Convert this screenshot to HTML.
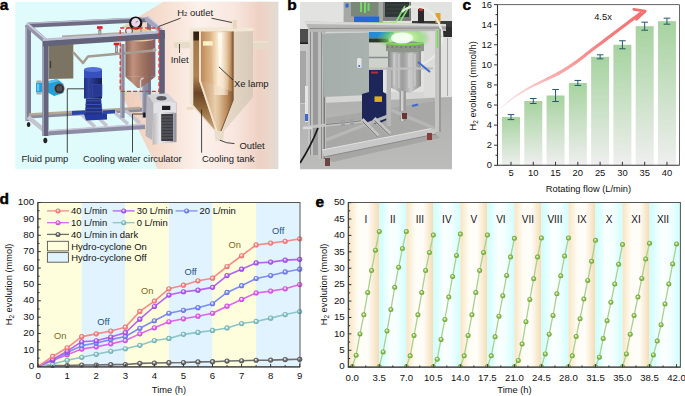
<!DOCTYPE html>
<html><head><meta charset="utf-8"><style>
html,body{margin:0;padding:0;background:#fff;}
svg{display:block;}
text{font-family:"Liberation Sans", sans-serif;}
</style></head><body>
<svg width="685" height="396" viewBox="0 0 685 396" font-family="Liberation Sans, sans-serif">
<rect width="685" height="396" fill="#fff"/>
<defs>
<radialGradient id="sp_red" cx="0.5" cy="0.5" r="0.5" fx="0.42" fy="0.36"><stop offset="0" stop-color="#fff"/><stop offset="0.22" stop-color="#fde2e2"/><stop offset="0.55" stop-color="#f58a8a"/><stop offset="1" stop-color="#e86a6a"/></radialGradient>
<radialGradient id="sp_purple" cx="0.5" cy="0.5" r="0.5" fx="0.42" fy="0.36"><stop offset="0" stop-color="#fff"/><stop offset="0.22" stop-color="#ecd6fd"/><stop offset="0.55" stop-color="#b462f2"/><stop offset="1" stop-color="#9440d8"/></radialGradient>
<radialGradient id="sp_blue" cx="0.5" cy="0.5" r="0.5" fx="0.42" fy="0.36"><stop offset="0" stop-color="#fff"/><stop offset="0.22" stop-color="#e0e4fd"/><stop offset="0.55" stop-color="#7f8cf2"/><stop offset="1" stop-color="#5f6ce0"/></radialGradient>
<radialGradient id="sp_magenta" cx="0.5" cy="0.5" r="0.5" fx="0.42" fy="0.36"><stop offset="0" stop-color="#fff"/><stop offset="0.22" stop-color="#f9dcfc"/><stop offset="0.55" stop-color="#e064ee"/><stop offset="1" stop-color="#c844d8"/></radialGradient>
<radialGradient id="sp_teal" cx="0.5" cy="0.5" r="0.5" fx="0.42" fy="0.36"><stop offset="0" stop-color="#fff"/><stop offset="0.22" stop-color="#e2f2f3"/><stop offset="0.55" stop-color="#8cc6c9"/><stop offset="1" stop-color="#6aa8ac"/></radialGradient>
<radialGradient id="sp_gray" cx="0.5" cy="0.5" r="0.5" fx="0.42" fy="0.36"><stop offset="0" stop-color="#fff"/><stop offset="0.22" stop-color="#d8d8d8"/><stop offset="0.55" stop-color="#6e6e6e"/><stop offset="1" stop-color="#505050"/></radialGradient>
<radialGradient id="sp_green" cx="0.5" cy="0.5" r="0.5" fx="0.42" fy="0.36"><stop offset="0" stop-color="#fff"/><stop offset="0.22" stop-color="#d8ecc0"/><stop offset="0.55" stop-color="#8cc152"/><stop offset="1" stop-color="#6a9e34"/></radialGradient>
</defs>
<defs>
<linearGradient id="a_rbg" gradientUnits="userSpaceOnUse" x1="120" y1="0" x2="278.3" y2="0">
 <stop offset="0" stop-color="#efcbb6"/><stop offset="0.25" stop-color="#f5dccd"/><stop offset="0.5" stop-color="#fcf1ec"/><stop offset="0.72" stop-color="#f8e7df"/><stop offset="0.88" stop-color="#eed1c3"/><stop offset="0.95" stop-color="#e9d8cc"/><stop offset="1" stop-color="#e0ddd2"/>
</linearGradient>
<linearGradient id="a_tank" x1="0" x2="1" y1="0" y2="0">
 <stop offset="0" stop-color="#8a6254"/><stop offset="0.25" stop-color="#c0927e"/><stop offset="0.5" stop-color="#a87a68"/><stop offset="0.8" stop-color="#8e6458"/><stop offset="1" stop-color="#8a6070"/>
</linearGradient>
<linearGradient id="a_pump" x1="0" x2="1" y1="0" y2="0">
 <stop offset="0" stop-color="#20307e"/><stop offset="0.25" stop-color="#3044a0"/><stop offset="0.6" stop-color="#22307c"/><stop offset="1" stop-color="#161e54"/>
</linearGradient>
<linearGradient id="a_circ" x1="0" x2="1" y1="0" y2="0">
 <stop offset="0" stop-color="#b8b8bc"/><stop offset="0.3" stop-color="#e8e8ea"/><stop offset="0.7" stop-color="#c8c8cc"/><stop offset="1" stop-color="#8e8a98"/>
</linearGradient>
<linearGradient id="a_shell" x1="0" x2="1" y1="0" y2="0">
 <stop offset="0" stop-color="#efe4d4"/><stop offset="0.5" stop-color="#e8dccb"/><stop offset="1" stop-color="#d8cab8"/>
</linearGradient>
<linearGradient id="a_inner" x1="0" x2="1" y1="0" y2="0">
 <stop offset="0" stop-color="#b8885a"/><stop offset="0.2" stop-color="#d2a676"/><stop offset="0.45" stop-color="#e6c49a"/><stop offset="0.55" stop-color="#f4dcb8"/><stop offset="0.7" stop-color="#dcb482"/><stop offset="0.92" stop-color="#c09060"/><stop offset="1" stop-color="#8a6038"/>
</linearGradient>
<linearGradient id="a_jacket" gradientUnits="userSpaceOnUse" x1="0" x2="0" y1="31.5" y2="131">
 <stop offset="0" stop-color="#2e1e10"/><stop offset="0.08" stop-color="#3a2616"/><stop offset="0.1" stop-color="#a47a4c"/><stop offset="0.45" stop-color="#b08454"/><stop offset="0.62" stop-color="#6a4426"/><stop offset="0.75" stop-color="#8a6238"/><stop offset="1" stop-color="#d0a878"/>
</linearGradient>
<linearGradient id="a_glow" x1="0" x2="1" y1="0" y2="0">
 <stop offset="0" stop-color="#fff4e0" stop-opacity="0"/><stop offset="0.45" stop-color="#fff6e8" stop-opacity="0.7"/><stop offset="0.6" stop-color="#fff6e8" stop-opacity="0.7"/><stop offset="1" stop-color="#fff4e0" stop-opacity="0"/>
</linearGradient>
<linearGradient id="a_cone" x1="0" x2="1" y1="0" y2="0">
 <stop offset="0" stop-color="#c09468"/><stop offset="0.45" stop-color="#ead0b0"/><stop offset="0.8" stop-color="#b88858"/><stop offset="1" stop-color="#7a5430"/>
</linearGradient>
</defs>
<rect x="15.2" y="1.8" width="263.1" height="167.2" fill="#e0fbfb"/>
<path d="M120,28 L163.5,1.8 L278.3,1.8 L278.3,169 L157.5,169 L120,91.4 Z" fill="url(#a_rbg)"/>
<rect x="120.2" y="28" width="38.8" height="63.4" fill="#e0fbfb"/>
<!-- back frame -->
<g stroke-linecap="butt">
<path d="M28,25.2 L150,19.5" stroke="#6c6c84" stroke-width="5"/>
<path d="M28,23.2 L150,17.5" stroke="#b8b8cc" stroke-width="1.4"/>
<path d="M28.3,25 V121" stroke="#7a7a92" stroke-width="5.4"/>
<path d="M26.3,25 V121" stroke="#a8a8bc" stroke-width="1.5"/>
<path d="M28,116.5 L145,109.5" stroke="#8c8ca0" stroke-width="4"/>
<path d="M28,117 L45,131" stroke="#c4c4d2" stroke-width="4.5"/>
<path d="M80,113 L95,127" stroke="#c4c4d0" stroke-width="3.5"/>
<path d="M92,112 L107,126" stroke="#c4c4d0" stroke-width="3.5"/>
<path d="M113,111 L128,124" stroke="#c4c4d0" stroke-width="3.5"/>
<path d="M125,110 L140,123" stroke="#c4c4d0" stroke-width="3.5"/>
<path d="M149,18 V108" stroke="#75758c" stroke-width="4"/>
</g>
<!-- cabinet -->
<path d="M48.6,45 L73.3,44 L73.3,78.5 L48.6,79 Z" fill="#7b7462"/>
<path d="M50.5,61 V68" stroke="#3e3a30" stroke-width="1.2"/>
<!-- pipes -->
<path d="M29,114.5 L140,108" stroke="#b4a898" stroke-width="2.4"/>
<path d="M62,36.4 L124,33" stroke="#b0a89e" stroke-width="2"/>
<!-- valves -->
<path d="M99.8,28.5 V35.5" stroke="#8a8a8a" stroke-width="3"/><path d="M99.8,31 V34" stroke="#c8c8c8" stroke-width="1"/><path d="M97,27.5 H102.6" stroke="#d42020" stroke-width="2.6"/>
<path d="M116.5,45 V53.5" stroke="#8a8a8a" stroke-width="3"/><path d="M116.5,47.5 V51.5" stroke="#c8c8c8" stroke-width="1"/><path d="M113.7,44 H119.3" stroke="#d42020" stroke-width="2.6"/>
<!-- flow meter -->
<rect x="36" y="82.6" width="6.5" height="10" rx="1.2" fill="#22a0d8"/><rect x="37" y="84" width="2.2" height="7" fill="#70c8ee"/><rect x="36.5" y="80.5" width="5" height="2.2" fill="#a8a8b0"/><rect x="36.5" y="92.5" width="5" height="2" fill="#a8a8b0"/>
<path d="M47,81.5 L57,79 L63.5,84 L63.5,93 L54,96 L47,92 Z" fill="#22a0d8"/><path d="M47,81.5 L57,79 L59,81 L49,83.5 Z" fill="#5cc0ec"/>
<circle cx="59.3" cy="88.6" r="5" fill="#2e2e30" stroke="#8a8a8e" stroke-width="0.6"/><circle cx="59.3" cy="88.6" r="3" fill="#505054"/>
<!-- front frame left -->
<path d="M45.5,41 V136" stroke="#64647c" stroke-width="6"/>
<path d="M43.2,41 V136" stroke="#9c9cb2" stroke-width="1.6"/>
<path d="M26.5,24.5 L45.5,41" stroke="#9494aa" stroke-width="5"/>
<path d="M26.5,22.8 L45.5,39" stroke="#d0d0e0" stroke-width="1.6"/>
<ellipse cx="28.6" cy="124.5" rx="1.8" ry="2.6" fill="#222"/>
<ellipse cx="45.3" cy="140.5" rx="2" ry="2.8" fill="#222"/>
<!-- pump -->
<path d="M72,111 L85,110.5 L85,114.5 L72,115 Z" fill="#2a44b0"/>
<path d="M103,110.5 L115,109.8 L115,113.2 L103,114 Z" fill="#2a44b0"/>
<path d="M84,114 L107,113.5 L107,119.5 L86,120.5 Z" fill="#2238a0"/>
<path d="M86,98.6 L101,98.6 L102.5,114 L85,114.5 Z" fill="#22307e"/>
<path d="M85.8,100.8 H101.3 M85.5,104.5 H101.8 M85.2,108.3 H102.2 M85,111.8 H102.4" stroke="#3a52b8" stroke-width="1"/>
<rect x="84" y="72" width="18" height="26.6" fill="url(#a_pump)"/>
<path d="M84,69.5 L102,69.5 L102,78 L84,78 Z" fill="#3650c0"/>
<ellipse cx="93" cy="69.5" rx="9" ry="2.4" fill="#5470d8"/>
<rect x="92.2" y="84.6" width="9.8" height="11.5" fill="#283890" stroke="#3a50b0" stroke-width="0.6"/>
<!-- tank -->
<path d="M145,76 V118" stroke="#8a8aa0" stroke-width="6"/><path d="M142.6,76 V118" stroke="#b4b4c6" stroke-width="1.4"/>

<rect x="125.4" y="38" width="30" height="38.8" fill="url(#a_tank)"/>
<path d="M125.4,76.8 L155.4,76.8 L140.5,88 L137.5,88 Z" fill="url(#a_tank)"/>
<path d="M140.5,80 V100 M140.5,79.5 L143.5,78" stroke="#d0d0d8" stroke-width="1.4" fill="none"/>
<ellipse cx="140.4" cy="38" rx="15" ry="3.5" fill="#e8c8a0"/>
<path d="M73,52 L83,63 L88,56.5 L154,50.5" fill="none" stroke="#a59c92" stroke-width="2.6" stroke-linejoin="round"/>
<circle cx="154.5" cy="50" r="2" fill="#b0a8a0"/>
<path d="M121,35.5 Q126,29 138,28.5 Q152,28.5 157,34 Z" fill="#e6c69a"/>
<path d="M132,29 V34 M141,29 V34" stroke="#8a8070" stroke-width="1"/>
<!-- gauge -->
<circle cx="129" cy="30.9" r="3.4" fill="#e4e4e4" stroke="#333" stroke-width="0.9"/>
<circle cx="135.7" cy="23" r="6.6" fill="#111"/>
<circle cx="135.7" cy="22.6" r="4.5" fill="#e6d8e8"/><path d="M135.7,22.6 L138,21" stroke="#555" stroke-width="0.7"/>
<path d="M133,27.8 H138.8" stroke="#d42a2a" stroke-width="1.6"/>
<!-- front frame top & right -->
<path d="M43,40.5 L165,32.5 L165,38.5 L43,46.5 Z" fill="#62627a"/>
<path d="M43,38.5 L165,30.5 L165,33 L43,41 Z" fill="#c0c0d4"/>
<path d="M146,18 L161,31" stroke="#a4a4bc" stroke-width="5"/>
<path d="M147.5,16 L163,29" stroke="#d2d2e2" stroke-width="1.4"/>
<path d="M162,30 V95" stroke="#5e5e78" stroke-width="5.6"/>
<path d="M122.5,44 V118" stroke="#8a8aa0" stroke-width="4.2"/>
<path d="M121,44 V118" stroke="#b4b4c6" stroke-width="1.2"/>
<path d="M48,133 L145,126.5" stroke="#8c8ca4" stroke-width="5"/>
<path d="M48,130.8 L145,124.3" stroke="#c8c8d8" stroke-width="1.4"/>
<!-- red dashed box -->
<rect x="120.2" y="28" width="38.8" height="63.4" fill="none" stroke="#e8322a" stroke-width="1.3" stroke-dasharray="4,2.2"/>
<!-- circulator -->
<path d="M146.7,94.7 L167.5,93.3 L176.5,102.4 L153.6,103 Z" fill="#d4d4d8"/>
<ellipse cx="161.5" cy="98.2" rx="5" ry="2.2" fill="#58585e"/>
<path d="M146.7,94.7 L153.6,103 L152.3,140.3 L145.5,136 Z" fill="#b6b6ba"/>
<path d="M153.6,103 L176.5,102.4 L176.5,142 L152.5,144.8 Z" fill="url(#a_circ)"/>
<path d="M153.6,103 Q165,101 176.5,102.4 L176.5,113 Q165,111 153.6,113.5 Z" fill="#e2e2e6"/>
<rect x="162" y="105.8" width="8.3" height="4.2" fill="#1e1e22"/>
<rect x="161.2" y="114" width="11.8" height="27" fill="#3c3c42"/>
<path d="M161.2,117 H173 M161.2,120 H173 M161.2,123 H173 M161.2,126 H173 M161.2,129 H173 M161.2,132 H173 M161.2,135 H173 M161.2,138 H173" stroke="#707078" stroke-width="0.7"/>
<!-- cutaway tank -->
<path d="M174,40.5 H190 V48.3 H174 Z" fill="#e8dcc8"/>
<path d="M174,40.5 H190 V42 H174 Z" fill="#f4ead8"/>
<path d="M252.5,41.2 H268.4 V49.2 H252.5 Z" fill="#e6dac8"/>
<path d="M252.5,41.2 H268.4 V42.6 H252.5 Z" fill="#f0e4d0"/>
<path d="M189.6,29.5 L253,29.5 L253,97 L224,131 L223.2,141 L215.5,141 L214.4,131 L192.6,107 L189.6,104 Z" fill="url(#a_shell)"/>
<path d="M189,28 Q221,26.5 253.4,28 L253.4,31 Q221,32.5 189,31 Z" fill="#f3e8d6"/>
<path d="M193.3,31.5 L199,31.5 L199,80.4 L215.8,129.5 L213.6,128.5 L193.3,105 Z" fill="url(#a_jacket)"/>
<path d="M200.8,31.5 L233,31.5 L233,100 L221,131 L217.6,131 L200.8,81 Z" fill="url(#a_inner)"/>
<path d="M200.8,81 L217.6,131 L221,131 L233,100 L233,92 Q215,84 200.8,81 Z" fill="url(#a_cone)" opacity="0.85"/>
<path d="M200,31.5 V80.6 L216.8,131.5" fill="none" stroke="#f2e4cc" stroke-width="1.8"/>
<path d="M233.2,31.5 V100 L221,131" fill="none" stroke="#7a5430" stroke-width="1"/>
<path d="M210,32 L232,32 L228,95 L214,95 Z" fill="url(#a_glow)"/>
<path d="M218,33 L222.4,33 L221.2,72 L219.4,72 Z" fill="#fffaf0" opacity="0.9"/>
<rect x="203" y="41.2" width="9.7" height="4.4" fill="#fff0c8"/>
<rect x="186.8" y="106.8" width="6.8" height="3.2" fill="#ecdcc4"/>
<rect x="230.8" y="19.3" width="6" height="9.5" fill="#e6d6be"/>
<rect x="230.8" y="19.3" width="2" height="9.5" fill="#f2e8d8"/>
<ellipse cx="233.8" cy="19.3" rx="3" ry="1" fill="#f4ead8"/>
<rect x="143.2" y="112.6" width="2.2" height="4.6" fill="#111"/>
<!-- labels -->
<g font-size="9.45" fill="#1a1a1a">
<text x="21.6" y="162.3">Fluid pump</text>
<text x="83" y="162.4">Cooling water circulator</text>
<text x="202" y="162.3">Cooling tank</text>
<text x="239.5" y="148.6">Outlet</text>
<text x="233.9" y="86.8">Xe lamp</text>
<text x="170.7" y="63.3">Inlet</text>
<text x="177.2" y="15.8">H<tspan font-size="6" dy="0.2">2</tspan><tspan dy="-0.2"> outlet</tspan></text>
</g>
<g stroke="#1a1a1a" stroke-width="0.8" fill="none">
<path d="M67.3,152.8 V88.8 H84"/>
<path d="M132.5,152.4 V114 H145"/>
<path d="M201.6,152.7 V109.5"/>
<path d="M219.8,140.2 Q226,143.5 234.5,143.6"/>
<path d="M218.9,66.9 L233,80"/>
<path d="M179.5,44 V53"/>
<path d="M180.5,18.2 L158.6,26.5"/>
<path d="M211.5,18.2 L231.9,22.5"/>
</g>
<text x="-0.3" y="10.1" font-size="15.5" font-weight="bold" fill="#000" stroke="#000" stroke-width="0.45">a</text>

<defs>
<clipPath id="b_clip"><rect x="300" y="1.9" width="152" height="167.3"/></clipPath>
<linearGradient id="b_floor" x1="0" x2="0" y1="0" y2="1">
 <stop offset="0" stop-color="#b0b0ae"/><stop offset="1" stop-color="#bcbcba"/>
</linearGradient>
<linearGradient id="b_tank" x1="0" x2="1" y1="0" y2="0">
 <stop offset="0" stop-color="#858585"/><stop offset="0.2" stop-color="#c0c0c0"/><stop offset="0.45" stop-color="#9c9c9c"/><stop offset="0.7" stop-color="#cacaca"/><stop offset="1" stop-color="#8a8a8a"/>
</linearGradient>
<radialGradient id="b_glow" cx="0.5" cy="0.5" r="0.5">
 <stop offset="0" stop-color="#f4fff0"/><stop offset="0.35" stop-color="#c0f0a0"/><stop offset="0.7" stop-color="#78d858" stop-opacity="0.55"/><stop offset="1" stop-color="#78d858" stop-opacity="0"/>
</radialGradient>
<linearGradient id="b_panel" x1="0" x2="1" y1="0" y2="0">
 <stop offset="0" stop-color="#a6aeac"/><stop offset="1" stop-color="#aab2b0"/>
</linearGradient>
<filter id="b_blur" x="-5%" y="-5%" width="110%" height="110%"><feGaussianBlur stdDeviation="0.5"/></filter>
</defs>
<g clip-path="url(#b_clip)">
<rect x="300" y="1.9" width="152" height="167.3" fill="#e2e3e1"/>
<g filter="url(#b_blur)">
<!-- wall lower tiles + floor -->
<rect x="300" y="92" width="152" height="14" fill="#d6d6d4"/>
<path d="M300,104 L452,97 L452,170 L300,170 Z" fill="url(#b_floor)"/>
<!-- darker floor under frame -->
<path d="M326,118 L436,101 L438,128 L326,152 Z" fill="#a8a8a6"/>
<path d="M326,156 L436,134 L440,138 L332,162 Z" fill="#a6a6a4"/>
<!-- lab bench left -->
<rect x="300" y="29" width="9" height="14" fill="#4e4e4e"/>
<rect x="300" y="42.5" width="9" height="1.5" fill="#1e1e1e"/>
<rect x="300" y="44" width="8" height="60" fill="#c8c8c6"/>
<rect x="300" y="51" width="6" height="52" fill="#a6a6a4"/>
<!-- right bench -->
<rect x="412" y="21" width="40" height="8" fill="#3a3a3a"/>
<rect x="424" y="29" width="28" height="68" fill="#dcdcda"/>
<rect x="438" y="27" width="14" height="10" fill="#2e2e2e"/><rect x="441" y="37" width="11" height="60" fill="#e2e2e0"/><path d="M447.5,38 V96" stroke="#9a9a9a" stroke-width="0.8"/>
<!-- fume hood / device at top -->
<rect x="343.6" y="1.9" width="39.2" height="21.5" fill="#a6a8a6"/>
<rect x="351" y="1.9" width="27.5" height="14.5" fill="#7a887a"/>
<path d="M361,2 V12 M365,2 V13 M368.5,3 V11" stroke="#72e860" stroke-width="2" opacity="0.85"/>
<rect x="345.5" y="3.5" width="3" height="4" fill="#2a6ad8"/>
<rect x="354" y="16.4" width="25.2" height="5.8" fill="#2468d8"/>
<rect x="382.8" y="1.9" width="28.2" height="19" fill="#7a7c7a"/>
<rect x="385" y="1.9" width="24" height="15" fill="#2e3434"/>
<path d="M386,5 H408 M386,9 H408 M386,13 H408" stroke="#3e4646" stroke-width="1"/>
<rect x="368.6" y="40" width="20" height="29" fill="#cdd2cd"/><path d="M369,57.5 H388" stroke="#8a8a8a" stroke-width="1.5"/>
<rect x="368.6" y="32" width="25.4" height="6.4" fill="#2a8ad0"/>
<rect x="368.6" y="38.4" width="20" height="4" fill="#2a382a"/>
<path d="M350,24 L396,23" stroke="#80e060" stroke-width="2.5" opacity="0.6"/>
<path d="M410,5 L400.5,21 M405,6 L396,22" stroke="#86f070" stroke-width="1.6" opacity="0.9"/>
<!-- bottles -->
<rect x="418" y="9" width="6" height="15" fill="#2a2a2e"/>
<rect x="419" y="8" width="4" height="3" fill="#c03030"/>
<rect x="435.5" y="13" width="5" height="10" fill="#e0a030"/>
<!-- left frame posts -->
<rect x="305" y="86" width="6" height="36" fill="#e4e4e4"/>
<rect x="305" y="114" width="6" height="7" fill="#3a6ad0"/>
<rect x="308" y="27" width="5" height="128" fill="#c2c2c2"/>
<rect x="310" y="27" width="1" height="128" fill="#8a8a8a"/>
<rect x="313" y="27" width="5" height="128" fill="#9a9a9a"/>
<rect x="318" y="29" width="8" height="130" fill="#c0c0c0"/>
<rect x="321" y="29" width="1" height="130" fill="#8a8a8a"/>
<rect x="323.5" y="29" width="1.5" height="130" fill="#7a7a7a"/>
<!-- green glow lid -->
<ellipse cx="404" cy="38" rx="27" ry="14" fill="url(#b_glow)"/>
<!-- cabinet panel -->
<path d="M322,33 L369,32 L369,95 L324,97 Z" fill="url(#b_panel)"/>
<path d="M322,33 L369,32" stroke="#d0d4d4" stroke-width="1"/>
<rect x="357" y="58" width="4.5" height="10" rx="1.5" fill="#e4e4e4"/>
<circle cx="359.2" cy="66" r="1" fill="#2a6ad0"/>
<!-- pump -->
<path d="M369,70 L383,69 L383,92 L386.5,94 L386.5,120 L378,124 L362,121 L362,94 L369,92 Z" fill="#1c2858"/>
<rect x="371" y="71.5" width="7" height="2" fill="#b03030"/>
<rect x="374.5" y="96.4" width="7.5" height="5.5" fill="#d8b020"/>
<!-- top frame -->
<path d="M305,21.5 L446,24 L446,31 L310,32 Z" fill="#b6b6b4"/>
<path d="M305,21.5 L446,24 L446,26 L306,24 Z" fill="#dadad8"/>
<path d="M310,28.5 L446,28" stroke="#8a8a8a" stroke-width="1"/>
<!-- tank -->
<path d="M388,50 L421,50 L421,86 L411,92.5 L400,92.5 L388,86 Z" fill="url(#b_tank)"/>
<path d="M394,54 V85 M399,54 V88 M409,54 V88 M415,54 V86" stroke="#dadada" stroke-width="1.2" opacity="0.7"/>
<path d="M386,43 Q405,39 424,43 L424,51 Q405,54 386,51 Z" fill="#8e968c"/>
<path d="M387,47 H423" stroke="#5a5a5a" stroke-width="1" stroke-dasharray="1.5,3"/>
<path d="M386,43 Q405,46 424,43" stroke="#78e048" stroke-width="1.8" fill="none" opacity="0.9"/>
<ellipse cx="402" cy="38" rx="11" ry="5.5" fill="#f4fff0" opacity="0.95"/>
<path d="M369,68.8 L433,68.3" stroke="#c0c0c0" stroke-width="2.2"/>
<rect x="399.5" y="91" width="6.4" height="30" fill="#9a9a9a"/>
<rect x="401" y="91" width="2.4" height="30" fill="#d0d0d0"/>
<rect x="386.6" y="67" width="4.4" height="59" fill="#b8b8b8"/>
<!-- tube -->
<path d="M402,12 Q408,5 420,7 Q436,10 442,32 Q445,55 420,65" stroke="#e8ece4" stroke-width="2.2" fill="none"/>

<!-- right post -->
<rect x="435" y="29" width="6" height="103" fill="#c4c4c4"/>
<rect x="439" y="29" width="2" height="103" fill="#9a9a9a"/>
<path d="M437.5,30 V48" stroke="#70e048" stroke-width="1.5"/>
<!-- pipes middle -->
<path d="M304,127.5 L364,121" stroke="#c4c4c4" stroke-width="3.2"/>
<path d="M326,124.5 L364,120.5" stroke="#7a7a7a" stroke-width="1.2"/>
<rect x="341" y="120" width="4" height="6" fill="#a0a0a0"/><rect x="350" y="119" width="4" height="6" fill="#a0a0a0"/>
<path d="M303,128 H312" stroke="#d8d8d8" stroke-width="2.4"/>
<path d="M391,113 L432,110" stroke="#a8a8a8" stroke-width="2.5"/>
<path d="M418,62 L430,72" stroke="#3a6ad0" stroke-width="2"/>
<path d="M412,106 L418,104.5" stroke="#3a6ad0" stroke-width="2"/>
<!-- bottom frame -->
<path d="M322,150 L434,128 L436,134 L324,157 Z" fill="#c8c8c8"/>
<path d="M322,150 L434,128" stroke="#e2e2e2" stroke-width="1"/>
<path d="M324,157 L436,134" stroke="#8a8a8a" stroke-width="1"/>
<path d="M391,110 L434,128" stroke="#b6b6b6" stroke-width="3.5"/>
<path d="M326,140 L388,116" stroke="#b8b8b8" stroke-width="3"/>
<path d="M362,119.5 L378,136 M374,118.5 L390,134" stroke="#c4c4c4" stroke-width="4"/><path d="M362.5,121.5 L377.5,137 M374.5,120.5 L389.5,135" stroke="#6a6a6a" stroke-width="1"/>
<!-- wheels -->
<rect x="325" y="158" width="5" height="8" fill="#6a4444"/>
<rect x="427" y="133" width="5" height="7" fill="#8a3a3a"/>
<rect x="402" y="113" width="5" height="6" fill="#6a3434"/>
<!-- cable -->
<path d="M318,128 Q311,146 300,163" stroke="#1a1a1a" stroke-width="1.8" fill="none"/>
</g>
</g>
<text x="287.2" y="10.1" font-size="15.5" font-weight="bold" fill="#000" stroke="#000" stroke-width="0.45">b</text>

<defs><linearGradient id="barg" x1="0" y1="0" x2="0" y2="1"><stop offset="0" stop-color="#a6d39f"/><stop offset="1" stop-color="#efefef"/></linearGradient><linearGradient id="arrg" gradientUnits="userSpaceOnUse" x1="500" y1="109" x2="645" y2="11"><stop offset="0" stop-color="#fbc4c4" stop-opacity="0.5"/><stop offset="0.35" stop-color="#f7a4a4" stop-opacity="0.9"/><stop offset="0.7" stop-color="#f47f7f"/><stop offset="1" stop-color="#f47070"/></linearGradient></defs>
<rect x="502.00" y="117.09" width="18.0" height="48.21" fill="url(#barg)"/>
<rect x="524.28" y="101.02" width="18.0" height="64.28" fill="url(#barg)"/>
<rect x="546.56" y="95.50" width="18.0" height="69.80" fill="url(#barg)"/>
<rect x="568.84" y="82.94" width="18.0" height="82.36" fill="url(#barg)"/>
<rect x="591.12" y="56.83" width="18.0" height="108.47" fill="url(#barg)"/>
<rect x="613.40" y="44.78" width="18.0" height="120.53" fill="url(#barg)"/>
<rect x="635.68" y="26.19" width="18.0" height="139.11" fill="url(#barg)"/>
<rect x="657.96" y="21.17" width="18.0" height="144.13" fill="url(#barg)"/>
<path d="M500.80,108.81 L501.62,108.12 L502.66,107.20 L503.89,106.10 L505.26,104.87 L506.77,103.56 L508.37,102.22 L510.03,100.90 L511.73,99.64 L513.53,98.40 L515.47,97.11 L517.52,95.79 L519.65,94.45 L521.83,93.13 L524.01,91.84 L526.17,90.60 L528.27,89.43 L530.33,88.35 L532.38,87.32 L534.44,86.35 L536.50,85.40 L538.57,84.47 L540.64,83.54 L542.72,82.59 L544.80,81.62 L546.87,80.65 L548.94,79.70 L551.01,78.75 L553.09,77.80 L555.17,76.81 L557.24,75.76 L559.32,74.65 L561.40,73.49 L563.48,72.27 L565.58,71.00 L567.68,69.69 L569.77,68.34 L571.85,66.97 L573.91,65.59 L575.94,64.20 L577.93,62.80 L579.82,61.43 L581.58,60.10 L583.28,58.78 L584.96,57.44 L586.68,56.05 L588.52,54.59 L590.53,53.00 L592.77,51.27 L595.27,49.37 L597.96,47.33 L600.82,45.18 L603.80,42.94 L606.87,40.64 L609.99,38.29 L613.14,35.93 L616.26,33.58 L619.59,31.08 L623.24,28.33 L627.04,25.47 L630.83,22.62 L634.44,19.91 L637.69,17.47 L640.42,15.41 L642.46,13.88 L640.54,11.32 L638.50,12.85 L635.77,14.91 L632.51,17.35 L628.91,20.06 L625.12,22.91 L621.31,25.78 L617.66,28.52 L614.34,31.02 L611.21,33.37 L608.07,35.73 L604.95,38.08 L601.88,40.38 L598.89,42.63 L596.04,44.78 L593.34,46.82 L590.83,48.73 L588.56,50.48 L586.53,52.08 L584.68,53.56 L582.96,54.94 L581.29,56.27 L579.63,57.56 L577.92,58.86 L576.07,60.20 L574.11,61.57 L572.11,62.94 L570.08,64.31 L568.03,65.66 L565.97,66.98 L563.90,68.27 L561.84,69.52 L559.80,70.71 L557.78,71.84 L555.76,72.92 L553.73,73.96 L551.71,75.00 L549.69,76.04 L547.66,77.07 L545.63,78.12 L543.60,79.18 L541.58,80.24 L539.56,81.27 L537.53,82.29 L535.50,83.31 L533.46,84.36 L531.42,85.44 L529.37,86.58 L527.33,87.77 L525.25,89.04 L523.12,90.38 L520.97,91.77 L518.83,93.19 L516.74,94.61 L514.73,96.03 L512.83,97.42 L511.07,98.76 L509.40,100.11 L507.78,101.53 L506.23,102.96 L504.79,104.36 L503.47,105.66 L502.32,106.84 L501.35,107.83 L500.60,108.59 Z" fill="url(#arrg)"/>
<path d="M633.8,9.3 L645.2,11.2 L636.5,19.3" fill="none" stroke="#f47070" stroke-width="2.8" stroke-linejoin="round" stroke-linecap="round"/>
<path d="M511.00,114.58V119.60M507.70,114.58H514.30M507.70,119.60H514.30" stroke="#24596b" stroke-width="1" fill="none"/>
<path d="M533.28,98.51V103.53M529.98,98.51H536.58M529.98,103.53H536.58" stroke="#24596b" stroke-width="1" fill="none"/>
<path d="M555.56,89.47V101.52M552.26,89.47H558.86M552.26,101.52H558.86" stroke="#24596b" stroke-width="1" fill="none"/>
<path d="M577.84,80.43V85.45M574.54,80.43H581.14M574.54,85.45H581.14" stroke="#24596b" stroke-width="1" fill="none"/>
<path d="M600.12,54.82V58.84M596.82,54.82H603.42M596.82,58.84H603.42" stroke="#24596b" stroke-width="1" fill="none"/>
<path d="M622.40,40.76V48.79M619.10,40.76H625.70M619.10,48.79H625.70" stroke="#24596b" stroke-width="1" fill="none"/>
<path d="M644.68,22.18V30.21M641.38,22.18H647.98M641.38,30.21H647.98" stroke="#24596b" stroke-width="1" fill="none"/>
<path d="M666.96,18.16V24.19M663.66,18.16H670.26M663.66,24.19H670.26" stroke="#24596b" stroke-width="1" fill="none"/>
<path d="M497.5,4.6H679.5V165.3" fill="none" stroke="#666" stroke-width="1"/>
<path d="M497.5,4.6V165.3H679.5" fill="none" stroke="#333" stroke-width="1.1"/>
<path d="M494.0,165.30H497.5" stroke="#333" stroke-width="1"/>
<text x="492.0" y="168.40" font-size="9.4" text-anchor="end" fill="#111">0</text>
<path d="M495.5,155.26H497.5" stroke="#333" stroke-width="1"/>
<path d="M494.0,145.21H497.5" stroke="#333" stroke-width="1"/>
<text x="492.0" y="148.31" font-size="9.4" text-anchor="end" fill="#111">2</text>
<path d="M495.5,135.17H497.5" stroke="#333" stroke-width="1"/>
<path d="M494.0,125.12H497.5" stroke="#333" stroke-width="1"/>
<text x="492.0" y="128.22" font-size="9.4" text-anchor="end" fill="#111">4</text>
<path d="M495.5,115.08H497.5" stroke="#333" stroke-width="1"/>
<path d="M494.0,105.04H497.5" stroke="#333" stroke-width="1"/>
<text x="492.0" y="108.14" font-size="9.4" text-anchor="end" fill="#111">6</text>
<path d="M495.5,94.99H497.5" stroke="#333" stroke-width="1"/>
<path d="M494.0,84.95H497.5" stroke="#333" stroke-width="1"/>
<text x="492.0" y="88.05" font-size="9.4" text-anchor="end" fill="#111">8</text>
<path d="M495.5,74.91H497.5" stroke="#333" stroke-width="1"/>
<path d="M494.0,64.86H497.5" stroke="#333" stroke-width="1"/>
<text x="492.0" y="67.96" font-size="9.4" text-anchor="end" fill="#111">10</text>
<path d="M495.5,54.82H497.5" stroke="#333" stroke-width="1"/>
<path d="M494.0,44.78H497.5" stroke="#333" stroke-width="1"/>
<text x="492.0" y="47.88" font-size="9.4" text-anchor="end" fill="#111">12</text>
<path d="M495.5,34.73H497.5" stroke="#333" stroke-width="1"/>
<path d="M494.0,24.69H497.5" stroke="#333" stroke-width="1"/>
<text x="492.0" y="27.79" font-size="9.4" text-anchor="end" fill="#111">14</text>
<path d="M495.5,14.64H497.5" stroke="#333" stroke-width="1"/>
<path d="M494.0,4.60H497.5" stroke="#333" stroke-width="1"/>
<text x="492.0" y="7.70" font-size="9.4" text-anchor="end" fill="#111">16</text>
<path d="M511.00,165.3V161.8" stroke="#333" stroke-width="1"/>
<text x="511.00" y="176.3" font-size="9.4" text-anchor="middle" fill="#111">5</text>
<path d="M533.28,165.3V161.8" stroke="#333" stroke-width="1"/>
<text x="533.28" y="176.3" font-size="9.4" text-anchor="middle" fill="#111">10</text>
<path d="M555.56,165.3V161.8" stroke="#333" stroke-width="1"/>
<text x="555.56" y="176.3" font-size="9.4" text-anchor="middle" fill="#111">15</text>
<path d="M577.84,165.3V161.8" stroke="#333" stroke-width="1"/>
<text x="577.84" y="176.3" font-size="9.4" text-anchor="middle" fill="#111">20</text>
<path d="M600.12,165.3V161.8" stroke="#333" stroke-width="1"/>
<text x="600.12" y="176.3" font-size="9.4" text-anchor="middle" fill="#111">25</text>
<path d="M622.40,165.3V161.8" stroke="#333" stroke-width="1"/>
<text x="622.40" y="176.3" font-size="9.4" text-anchor="middle" fill="#111">30</text>
<path d="M644.68,165.3V161.8" stroke="#333" stroke-width="1"/>
<text x="644.68" y="176.3" font-size="9.4" text-anchor="middle" fill="#111">35</text>
<path d="M666.96,165.3V161.8" stroke="#333" stroke-width="1"/>
<text x="666.96" y="176.3" font-size="9.4" text-anchor="middle" fill="#111">40</text>
<text x="588.5" y="192" font-size="9.3" text-anchor="middle" fill="#111">Rotating flow (L/min)</text>
<text transform="translate(475.6,85.8) rotate(-90)" font-size="9.3" text-anchor="middle" fill="#111">H<tspan font-size="6.5" dy="2">2</tspan><tspan dy="-2"> evolution (mmol/h)</tspan></text>
<text x="603" y="20" font-size="9.3" text-anchor="middle" fill="#111">4.5x</text>
<text x="462.4" y="10.4" font-size="15.5" font-weight="bold" fill="#000" stroke="#000" stroke-width="0.45">c</text>
<rect x="37.80" y="202.5" width="43.90" height="164.39999999999998" fill="#fefddc"/>
<rect x="81.70" y="202.5" width="43.60" height="164.39999999999998" fill="#e0f3fe"/>
<rect x="125.30" y="202.5" width="43.60" height="164.39999999999998" fill="#fefddc"/>
<rect x="168.90" y="202.5" width="43.60" height="164.39999999999998" fill="#e0f3fe"/>
<rect x="212.50" y="202.5" width="43.60" height="164.39999999999998" fill="#fefddc"/>
<rect x="256.10" y="202.5" width="43.90" height="164.39999999999998" fill="#e0f3fe"/>
<text x="60.2" y="338.6" font-size="9.3" text-anchor="middle" fill="#7d6a18">On</text>
<text x="103.4" y="324.6" font-size="9.3" text-anchor="middle" fill="#1e5282">Off</text>
<text x="147.2" y="294.3" font-size="9.3" text-anchor="middle" fill="#7d6a18">On</text>
<text x="190.6" y="274.6" font-size="9.3" text-anchor="middle" fill="#1e5282">Off</text>
<text x="234.7" y="247.9" font-size="9.3" text-anchor="middle" fill="#7d6a18">On</text>
<text x="278.2" y="234.2" font-size="9.3" text-anchor="middle" fill="#1e5282">Off</text>
<polyline points="38.10,366.30 52.63,365.48 67.17,365.48 81.70,364.99 96.23,364.99 110.77,364.66 125.30,364.50 139.83,363.35 154.37,363.02 168.90,362.70 183.43,362.53 197.97,361.88 212.50,361.71 227.03,361.06 241.57,360.73 256.10,360.24 270.63,360.08 285.17,359.58 299.70,359.26" fill="none" stroke="#6e6e6e" stroke-width="1.6" stroke-linejoin="round"/>
<circle cx="52.63" cy="365.48" r="2.6" fill="url(#sp_gray)"/>
<circle cx="67.17" cy="365.48" r="2.6" fill="url(#sp_gray)"/>
<circle cx="81.70" cy="364.99" r="2.6" fill="url(#sp_gray)"/>
<circle cx="96.23" cy="364.99" r="2.6" fill="url(#sp_gray)"/>
<circle cx="110.77" cy="364.66" r="2.6" fill="url(#sp_gray)"/>
<circle cx="125.30" cy="364.50" r="2.6" fill="url(#sp_gray)"/>
<circle cx="139.83" cy="363.35" r="2.6" fill="url(#sp_gray)"/>
<circle cx="154.37" cy="363.02" r="2.6" fill="url(#sp_gray)"/>
<circle cx="168.90" cy="362.70" r="2.6" fill="url(#sp_gray)"/>
<circle cx="183.43" cy="362.53" r="2.6" fill="url(#sp_gray)"/>
<circle cx="197.97" cy="361.88" r="2.6" fill="url(#sp_gray)"/>
<circle cx="212.50" cy="361.71" r="2.6" fill="url(#sp_gray)"/>
<circle cx="227.03" cy="361.06" r="2.6" fill="url(#sp_gray)"/>
<circle cx="241.57" cy="360.73" r="2.6" fill="url(#sp_gray)"/>
<circle cx="256.10" cy="360.24" r="2.6" fill="url(#sp_gray)"/>
<circle cx="270.63" cy="360.08" r="2.6" fill="url(#sp_gray)"/>
<circle cx="285.17" cy="359.58" r="2.6" fill="url(#sp_gray)"/>
<circle cx="299.70" cy="359.26" r="2.6" fill="url(#sp_gray)"/>
<polyline points="38.10,366.30 52.63,364.01 67.17,360.24 81.70,357.29 96.23,354.34 110.77,351.23 125.30,348.77 139.83,345.33 154.37,340.58 168.90,338.45 183.43,334.36 197.97,332.39 212.50,330.43 227.03,327.97 241.57,323.55 256.10,321.42 270.63,318.14 285.17,314.54 299.70,311.59" fill="none" stroke="#8cc6c9" stroke-width="1.6" stroke-linejoin="round"/>
<circle cx="52.63" cy="364.01" r="2.6" fill="url(#sp_teal)"/>
<circle cx="67.17" cy="360.24" r="2.6" fill="url(#sp_teal)"/>
<circle cx="81.70" cy="357.29" r="2.6" fill="url(#sp_teal)"/>
<circle cx="96.23" cy="354.34" r="2.6" fill="url(#sp_teal)"/>
<circle cx="110.77" cy="351.23" r="2.6" fill="url(#sp_teal)"/>
<circle cx="125.30" cy="348.77" r="2.6" fill="url(#sp_teal)"/>
<circle cx="139.83" cy="345.33" r="2.6" fill="url(#sp_teal)"/>
<circle cx="154.37" cy="340.58" r="2.6" fill="url(#sp_teal)"/>
<circle cx="168.90" cy="338.45" r="2.6" fill="url(#sp_teal)"/>
<circle cx="183.43" cy="334.36" r="2.6" fill="url(#sp_teal)"/>
<circle cx="197.97" cy="332.39" r="2.6" fill="url(#sp_teal)"/>
<circle cx="212.50" cy="330.43" r="2.6" fill="url(#sp_teal)"/>
<circle cx="227.03" cy="327.97" r="2.6" fill="url(#sp_teal)"/>
<circle cx="241.57" cy="323.55" r="2.6" fill="url(#sp_teal)"/>
<circle cx="256.10" cy="321.42" r="2.6" fill="url(#sp_teal)"/>
<circle cx="270.63" cy="318.14" r="2.6" fill="url(#sp_teal)"/>
<circle cx="285.17" cy="314.54" r="2.6" fill="url(#sp_teal)"/>
<circle cx="299.70" cy="311.59" r="2.6" fill="url(#sp_teal)"/>
<polyline points="38.10,366.30 52.63,360.57 67.17,354.67 81.70,349.10 96.23,346.81 110.77,343.86 125.30,340.58 139.83,333.87 154.37,327.81 168.90,321.75 183.43,318.80 197.97,316.18 212.50,313.23 227.03,306.19 241.57,299.47 256.10,292.92 270.63,291.12 285.17,288.82 299.70,284.56" fill="none" stroke="#e064ee" stroke-width="1.6" stroke-linejoin="round"/>
<circle cx="52.63" cy="360.57" r="2.6" fill="url(#sp_magenta)"/>
<circle cx="67.17" cy="354.67" r="2.6" fill="url(#sp_magenta)"/>
<circle cx="81.70" cy="349.10" r="2.6" fill="url(#sp_magenta)"/>
<circle cx="96.23" cy="346.81" r="2.6" fill="url(#sp_magenta)"/>
<circle cx="110.77" cy="343.86" r="2.6" fill="url(#sp_magenta)"/>
<circle cx="125.30" cy="340.58" r="2.6" fill="url(#sp_magenta)"/>
<circle cx="139.83" cy="333.87" r="2.6" fill="url(#sp_magenta)"/>
<circle cx="154.37" cy="327.81" r="2.6" fill="url(#sp_magenta)"/>
<circle cx="168.90" cy="321.75" r="2.6" fill="url(#sp_magenta)"/>
<circle cx="183.43" cy="318.80" r="2.6" fill="url(#sp_magenta)"/>
<circle cx="197.97" cy="316.18" r="2.6" fill="url(#sp_magenta)"/>
<circle cx="212.50" cy="313.23" r="2.6" fill="url(#sp_magenta)"/>
<circle cx="227.03" cy="306.19" r="2.6" fill="url(#sp_magenta)"/>
<circle cx="241.57" cy="299.47" r="2.6" fill="url(#sp_magenta)"/>
<circle cx="256.10" cy="292.92" r="2.6" fill="url(#sp_magenta)"/>
<circle cx="270.63" cy="291.12" r="2.6" fill="url(#sp_magenta)"/>
<circle cx="285.17" cy="288.82" r="2.6" fill="url(#sp_magenta)"/>
<circle cx="299.70" cy="284.56" r="2.6" fill="url(#sp_magenta)"/>
<polyline points="38.10,366.30 52.63,360.24 67.17,352.54 81.70,345.66 96.23,343.04 110.77,339.60 125.30,336.49 139.83,328.30 154.37,320.76 168.90,313.23 183.43,310.28 197.97,307.66 212.50,303.73 227.03,292.43 241.57,285.71 256.10,278.50 270.63,275.55 285.17,271.95 299.70,269.17" fill="none" stroke="#7f8cf2" stroke-width="1.6" stroke-linejoin="round"/>
<circle cx="52.63" cy="360.24" r="2.6" fill="url(#sp_blue)"/>
<circle cx="67.17" cy="352.54" r="2.6" fill="url(#sp_blue)"/>
<circle cx="81.70" cy="345.66" r="2.6" fill="url(#sp_blue)"/>
<circle cx="96.23" cy="343.04" r="2.6" fill="url(#sp_blue)"/>
<circle cx="110.77" cy="339.60" r="2.6" fill="url(#sp_blue)"/>
<circle cx="125.30" cy="336.49" r="2.6" fill="url(#sp_blue)"/>
<circle cx="139.83" cy="328.30" r="2.6" fill="url(#sp_blue)"/>
<circle cx="154.37" cy="320.76" r="2.6" fill="url(#sp_blue)"/>
<circle cx="168.90" cy="313.23" r="2.6" fill="url(#sp_blue)"/>
<circle cx="183.43" cy="310.28" r="2.6" fill="url(#sp_blue)"/>
<circle cx="197.97" cy="307.66" r="2.6" fill="url(#sp_blue)"/>
<circle cx="212.50" cy="303.73" r="2.6" fill="url(#sp_blue)"/>
<circle cx="227.03" cy="292.43" r="2.6" fill="url(#sp_blue)"/>
<circle cx="241.57" cy="285.71" r="2.6" fill="url(#sp_blue)"/>
<circle cx="256.10" cy="278.50" r="2.6" fill="url(#sp_blue)"/>
<circle cx="270.63" cy="275.55" r="2.6" fill="url(#sp_blue)"/>
<circle cx="285.17" cy="271.95" r="2.6" fill="url(#sp_blue)"/>
<circle cx="299.70" cy="269.17" r="2.6" fill="url(#sp_blue)"/>
<polyline points="38.10,366.30 52.63,359.42 67.17,351.07 81.70,341.73 96.23,340.75 110.77,336.98 125.30,332.72 139.83,319.13 154.37,306.51 168.90,295.05 183.43,291.77 197.97,290.13 212.50,287.35 227.03,275.55 241.57,269.17 256.10,262.94 270.63,262.12 285.17,260.16 299.70,259.34" fill="none" stroke="#b462f2" stroke-width="1.6" stroke-linejoin="round"/>
<circle cx="52.63" cy="359.42" r="2.6" fill="url(#sp_purple)"/>
<circle cx="67.17" cy="351.07" r="2.6" fill="url(#sp_purple)"/>
<circle cx="81.70" cy="341.73" r="2.6" fill="url(#sp_purple)"/>
<circle cx="96.23" cy="340.75" r="2.6" fill="url(#sp_purple)"/>
<circle cx="110.77" cy="336.98" r="2.6" fill="url(#sp_purple)"/>
<circle cx="125.30" cy="332.72" r="2.6" fill="url(#sp_purple)"/>
<circle cx="139.83" cy="319.13" r="2.6" fill="url(#sp_purple)"/>
<circle cx="154.37" cy="306.51" r="2.6" fill="url(#sp_purple)"/>
<circle cx="168.90" cy="295.05" r="2.6" fill="url(#sp_purple)"/>
<circle cx="183.43" cy="291.77" r="2.6" fill="url(#sp_purple)"/>
<circle cx="197.97" cy="290.13" r="2.6" fill="url(#sp_purple)"/>
<circle cx="212.50" cy="287.35" r="2.6" fill="url(#sp_purple)"/>
<circle cx="227.03" cy="275.55" r="2.6" fill="url(#sp_purple)"/>
<circle cx="241.57" cy="269.17" r="2.6" fill="url(#sp_purple)"/>
<circle cx="256.10" cy="262.94" r="2.6" fill="url(#sp_purple)"/>
<circle cx="270.63" cy="262.12" r="2.6" fill="url(#sp_purple)"/>
<circle cx="285.17" cy="260.16" r="2.6" fill="url(#sp_purple)"/>
<circle cx="299.70" cy="259.34" r="2.6" fill="url(#sp_purple)"/>
<polyline points="38.10,366.30 52.63,356.47 67.17,347.79 81.70,336.65 96.23,333.87 110.77,331.08 125.30,327.15 139.83,311.43 154.37,301.11 168.90,288.82 183.43,285.22 197.97,280.80 212.50,278.18 227.03,266.55 241.57,255.74 256.10,244.92 270.63,243.12 285.17,241.32 299.70,238.86" fill="none" stroke="#f58a8a" stroke-width="1.6" stroke-linejoin="round"/>
<circle cx="52.63" cy="356.47" r="2.6" fill="url(#sp_red)"/>
<circle cx="67.17" cy="347.79" r="2.6" fill="url(#sp_red)"/>
<circle cx="81.70" cy="336.65" r="2.6" fill="url(#sp_red)"/>
<circle cx="96.23" cy="333.87" r="2.6" fill="url(#sp_red)"/>
<circle cx="110.77" cy="331.08" r="2.6" fill="url(#sp_red)"/>
<circle cx="125.30" cy="327.15" r="2.6" fill="url(#sp_red)"/>
<circle cx="139.83" cy="311.43" r="2.6" fill="url(#sp_red)"/>
<circle cx="154.37" cy="301.11" r="2.6" fill="url(#sp_red)"/>
<circle cx="168.90" cy="288.82" r="2.6" fill="url(#sp_red)"/>
<circle cx="183.43" cy="285.22" r="2.6" fill="url(#sp_red)"/>
<circle cx="197.97" cy="280.80" r="2.6" fill="url(#sp_red)"/>
<circle cx="212.50" cy="278.18" r="2.6" fill="url(#sp_red)"/>
<circle cx="227.03" cy="266.55" r="2.6" fill="url(#sp_red)"/>
<circle cx="241.57" cy="255.74" r="2.6" fill="url(#sp_red)"/>
<circle cx="256.10" cy="244.92" r="2.6" fill="url(#sp_red)"/>
<circle cx="270.63" cy="243.12" r="2.6" fill="url(#sp_red)"/>
<circle cx="285.17" cy="241.32" r="2.6" fill="url(#sp_red)"/>
<circle cx="299.70" cy="238.86" r="2.6" fill="url(#sp_red)"/>
<rect x="37.8" y="202.5" width="262.2" height="164.39999999999998" fill="none" stroke="#555" stroke-width="1"/>
<path d="M37.8,202.5V366.9H300.0" fill="none" stroke="#4a4a4a" stroke-width="1.3"/>
<path d="M37.8,366.30H40.8" stroke="#333" stroke-width="1"/>
<text x="34.199999999999996" y="369.00" font-size="9.8" text-anchor="end" fill="#111">0</text>
<path d="M37.8,358.11H39.599999999999994" stroke="#333" stroke-width="1"/>
<path d="M37.8,349.92H40.8" stroke="#333" stroke-width="1"/>
<text x="34.199999999999996" y="352.62" font-size="9.8" text-anchor="end" fill="#111">10</text>
<path d="M37.8,341.73H39.599999999999994" stroke="#333" stroke-width="1"/>
<path d="M37.8,333.54H40.8" stroke="#333" stroke-width="1"/>
<text x="34.199999999999996" y="336.24" font-size="9.8" text-anchor="end" fill="#111">20</text>
<path d="M37.8,325.35H39.599999999999994" stroke="#333" stroke-width="1"/>
<path d="M37.8,317.16H40.8" stroke="#333" stroke-width="1"/>
<text x="34.199999999999996" y="319.86" font-size="9.8" text-anchor="end" fill="#111">30</text>
<path d="M37.8,308.97H39.599999999999994" stroke="#333" stroke-width="1"/>
<path d="M37.8,300.78H40.8" stroke="#333" stroke-width="1"/>
<text x="34.199999999999996" y="303.48" font-size="9.8" text-anchor="end" fill="#111">40</text>
<path d="M37.8,292.59H39.599999999999994" stroke="#333" stroke-width="1"/>
<path d="M37.8,284.40H40.8" stroke="#333" stroke-width="1"/>
<text x="34.199999999999996" y="287.10" font-size="9.8" text-anchor="end" fill="#111">50</text>
<path d="M37.8,276.21H39.599999999999994" stroke="#333" stroke-width="1"/>
<path d="M37.8,268.02H40.8" stroke="#333" stroke-width="1"/>
<text x="34.199999999999996" y="270.72" font-size="9.8" text-anchor="end" fill="#111">60</text>
<path d="M37.8,259.83H39.599999999999994" stroke="#333" stroke-width="1"/>
<path d="M37.8,251.64H40.8" stroke="#333" stroke-width="1"/>
<text x="34.199999999999996" y="254.34" font-size="9.8" text-anchor="end" fill="#111">70</text>
<path d="M37.8,243.45H39.599999999999994" stroke="#333" stroke-width="1"/>
<path d="M37.8,235.26H40.8" stroke="#333" stroke-width="1"/>
<text x="34.199999999999996" y="237.96" font-size="9.8" text-anchor="end" fill="#111">80</text>
<path d="M37.8,227.07H39.599999999999994" stroke="#333" stroke-width="1"/>
<path d="M37.8,218.88H40.8" stroke="#333" stroke-width="1"/>
<text x="34.199999999999996" y="221.58" font-size="9.8" text-anchor="end" fill="#111">90</text>
<path d="M37.8,210.69H39.599999999999994" stroke="#333" stroke-width="1"/>
<path d="M37.8,202.50H40.8" stroke="#333" stroke-width="1"/>
<text x="34.199999999999996" y="205.20" font-size="9.8" text-anchor="end" fill="#111">100</text>
<path d="M38.10,366.9V363.9" stroke="#333" stroke-width="1"/>
<path d="M52.63,366.9V365.09999999999997" stroke="#333" stroke-width="1"/>
<text x="38.10" y="378.50" font-size="9.6" text-anchor="middle" fill="#111">0</text>
<path d="M67.17,366.9V363.9" stroke="#333" stroke-width="1"/>
<path d="M81.70,366.9V365.09999999999997" stroke="#333" stroke-width="1"/>
<text x="67.17" y="378.50" font-size="9.6" text-anchor="middle" fill="#111">1</text>
<path d="M96.23,366.9V363.9" stroke="#333" stroke-width="1"/>
<path d="M110.77,366.9V365.09999999999997" stroke="#333" stroke-width="1"/>
<text x="96.23" y="378.50" font-size="9.6" text-anchor="middle" fill="#111">2</text>
<path d="M125.30,366.9V363.9" stroke="#333" stroke-width="1"/>
<path d="M139.83,366.9V365.09999999999997" stroke="#333" stroke-width="1"/>
<text x="125.30" y="378.50" font-size="9.6" text-anchor="middle" fill="#111">3</text>
<path d="M154.37,366.9V363.9" stroke="#333" stroke-width="1"/>
<path d="M168.90,366.9V365.09999999999997" stroke="#333" stroke-width="1"/>
<text x="154.37" y="378.50" font-size="9.6" text-anchor="middle" fill="#111">4</text>
<path d="M183.43,366.9V363.9" stroke="#333" stroke-width="1"/>
<path d="M197.97,366.9V365.09999999999997" stroke="#333" stroke-width="1"/>
<text x="183.43" y="378.50" font-size="9.6" text-anchor="middle" fill="#111">5</text>
<path d="M212.50,366.9V363.9" stroke="#333" stroke-width="1"/>
<path d="M227.03,366.9V365.09999999999997" stroke="#333" stroke-width="1"/>
<text x="212.50" y="378.50" font-size="9.6" text-anchor="middle" fill="#111">6</text>
<path d="M241.57,366.9V363.9" stroke="#333" stroke-width="1"/>
<path d="M256.10,366.9V365.09999999999997" stroke="#333" stroke-width="1"/>
<text x="241.57" y="378.50" font-size="9.6" text-anchor="middle" fill="#111">7</text>
<path d="M270.63,366.9V363.9" stroke="#333" stroke-width="1"/>
<path d="M285.17,366.9V365.09999999999997" stroke="#333" stroke-width="1"/>
<text x="270.63" y="378.50" font-size="9.6" text-anchor="middle" fill="#111">8</text>
<path d="M299.70,366.9V363.9" stroke="#333" stroke-width="1"/>
<text x="299.70" y="378.50" font-size="9.6" text-anchor="middle" fill="#111">9</text>
<text x="169" y="393.3" font-size="9.3" text-anchor="middle" fill="#111">Time (h)</text>
<text transform="translate(12,284.5) rotate(-90)" font-size="9.3" text-anchor="middle" fill="#111">H<tspan font-size="6.5" dy="2">2</tspan><tspan dy="-2"> evolution (mmol)</tspan></text>
<path d="M47,210.9H69" stroke="#f58a8a" stroke-width="1.3"/>
<circle cx="58" cy="210.9" r="2.5" fill="url(#sp_red)"/>
<text x="71" y="214.20000000000002" font-size="9.45" fill="#111">40 L/min</text>
<path d="M112.7,210.9H134.7" stroke="#b462f2" stroke-width="1.3"/>
<circle cx="123.7" cy="210.9" r="2.5" fill="url(#sp_purple)"/>
<text x="136.7" y="214.20000000000002" font-size="9.45" fill="#111">30 L/min</text>
<path d="M175.6,210.9H197.6" stroke="#7f8cf2" stroke-width="1.3"/>
<circle cx="186.6" cy="210.9" r="2.5" fill="url(#sp_blue)"/>
<text x="199.6" y="214.20000000000002" font-size="9.45" fill="#111">20 L/min</text>
<path d="M47,222.7H69" stroke="#e064ee" stroke-width="1.3"/>
<circle cx="58" cy="222.7" r="2.5" fill="url(#sp_magenta)"/>
<text x="71" y="226.0" font-size="9.45" fill="#111">10 L/min</text>
<path d="M112.7,222.7H134.7" stroke="#8cc6c9" stroke-width="1.3"/>
<circle cx="123.7" cy="222.7" r="2.5" fill="url(#sp_teal)"/>
<text x="136.7" y="226.0" font-size="9.45" fill="#111">0 L/min</text>
<path d="M47,234.4H69" stroke="#6e6e6e" stroke-width="1.3"/>
<circle cx="58" cy="234.4" r="2.5" fill="url(#sp_gray)"/>
<text x="71" y="237.70000000000002" font-size="9.45" fill="#111">40 L/min in dark</text>
<rect x="47.4" y="241.3" width="21" height="9.6" fill="#fefddc" stroke="#555" stroke-width="0.9"/>
<text x="71.3" y="249.6" font-size="9.45" fill="#111">Hydro-cyclone On</text>
<rect x="47.4" y="252.6" width="21" height="9.6" fill="#e0f3fe" stroke="#555" stroke-width="0.9"/>
<text x="71.3" y="260.8" font-size="9.45" fill="#111">Hydro-cyclone Off</text>
<text x="-0.6" y="203.7" font-size="15.5" font-weight="bold" fill="#000" stroke="#000" stroke-width="0.45">d</text>
<defs><clipPath id="eclip"><rect x="348.4" y="202.5" width="332.0" height="164.29999999999998"/></clipPath></defs>
<defs><linearGradient id="eor" x1="0" x2="1" y1="0" y2="0"><stop offset="0" stop-color="#f7e5c2"/><stop offset="0.33" stop-color="#fffdf6"/><stop offset="0.62" stop-color="#fffdf8"/><stop offset="1" stop-color="#f3dcb4"/></linearGradient><linearGradient id="ecy" x1="0" x2="1" y1="0" y2="0"><stop offset="0" stop-color="#ccfeff"/><stop offset="0.42" stop-color="#fcffff"/><stop offset="0.68" stop-color="#f2ffff"/><stop offset="1" stop-color="#d0fdff"/></linearGradient></defs>
<rect x="348.40" y="202.5" width="30.88" height="164.7" fill="url(#eor)"/>
<text x="365.77" y="222.61" font-size="10" text-anchor="middle" fill="#111">I</text>
<rect x="379.28" y="202.5" width="27.02" height="164.7" fill="url(#ecy)"/>
<text x="392.80" y="222.61" font-size="10" text-anchor="middle" fill="#111">II</text>
<rect x="406.31" y="202.5" width="27.02" height="164.7" fill="url(#eor)"/>
<text x="419.82" y="222.61" font-size="10" text-anchor="middle" fill="#111">III</text>
<rect x="433.33" y="202.5" width="27.02" height="164.7" fill="url(#ecy)"/>
<text x="446.84" y="222.61" font-size="10" text-anchor="middle" fill="#111">IV</text>
<rect x="460.35" y="202.5" width="27.02" height="164.7" fill="url(#eor)"/>
<text x="473.87" y="222.61" font-size="10" text-anchor="middle" fill="#111">V</text>
<rect x="487.38" y="202.5" width="27.02" height="164.7" fill="url(#ecy)"/>
<text x="500.89" y="222.61" font-size="10" text-anchor="middle" fill="#111">VI</text>
<rect x="514.40" y="202.5" width="27.02" height="164.7" fill="url(#eor)"/>
<text x="527.91" y="222.61" font-size="10" text-anchor="middle" fill="#111">VII</text>
<rect x="541.42" y="202.5" width="27.02" height="164.7" fill="url(#ecy)"/>
<text x="554.93" y="222.61" font-size="10" text-anchor="middle" fill="#111">VIII</text>
<rect x="568.45" y="202.5" width="27.02" height="164.7" fill="url(#eor)"/>
<text x="581.96" y="222.61" font-size="10" text-anchor="middle" fill="#111">IX</text>
<rect x="595.47" y="202.5" width="27.02" height="164.7" fill="url(#ecy)"/>
<text x="608.98" y="222.61" font-size="10" text-anchor="middle" fill="#111">X</text>
<rect x="622.49" y="202.5" width="27.02" height="164.7" fill="url(#eor)"/>
<text x="636.00" y="222.61" font-size="10" text-anchor="middle" fill="#111">XI</text>
<rect x="649.52" y="202.5" width="30.88" height="164.7" fill="url(#ecy)"/>
<text x="663.03" y="222.61" font-size="10" text-anchor="middle" fill="#111">XII</text>
<g clip-path="url(#eclip)">
<polyline points="352.26,366.70 356.12,355.21 359.98,333.88 363.84,314.84 367.70,292.53 371.56,270.54 375.42,250.19 379.28,231.48" fill="none" stroke="#a9d18e" stroke-width="1.3"/>
<circle cx="352.26" cy="366.70" r="2.5" fill="url(#sp_green)"/>
<circle cx="356.12" cy="355.21" r="2.5" fill="url(#sp_green)"/>
<circle cx="359.98" cy="333.88" r="2.5" fill="url(#sp_green)"/>
<circle cx="363.84" cy="314.84" r="2.5" fill="url(#sp_green)"/>
<circle cx="367.70" cy="292.53" r="2.5" fill="url(#sp_green)"/>
<circle cx="371.56" cy="270.54" r="2.5" fill="url(#sp_green)"/>
<circle cx="375.42" cy="250.19" r="2.5" fill="url(#sp_green)"/>
<circle cx="379.28" cy="231.48" r="2.5" fill="url(#sp_green)"/>
<polyline points="379.28,366.70 383.14,351.93 387.00,330.93 390.87,309.59 394.73,287.28 398.59,267.26 402.45,248.55 406.31,231.48" fill="none" stroke="#a9d18e" stroke-width="1.3"/>
<circle cx="379.28" cy="366.70" r="2.5" fill="url(#sp_green)"/>
<circle cx="383.14" cy="351.93" r="2.5" fill="url(#sp_green)"/>
<circle cx="387.00" cy="330.93" r="2.5" fill="url(#sp_green)"/>
<circle cx="390.87" cy="309.59" r="2.5" fill="url(#sp_green)"/>
<circle cx="394.73" cy="287.28" r="2.5" fill="url(#sp_green)"/>
<circle cx="398.59" cy="267.26" r="2.5" fill="url(#sp_green)"/>
<circle cx="402.45" cy="248.55" r="2.5" fill="url(#sp_green)"/>
<circle cx="406.31" cy="231.48" r="2.5" fill="url(#sp_green)"/>
<polyline points="406.31,366.70 410.17,355.87 414.03,335.52 417.89,314.84 421.75,292.53 425.61,270.54 429.47,252.49 433.33,235.09" fill="none" stroke="#a9d18e" stroke-width="1.3"/>
<circle cx="406.31" cy="366.70" r="2.5" fill="url(#sp_green)"/>
<circle cx="410.17" cy="355.87" r="2.5" fill="url(#sp_green)"/>
<circle cx="414.03" cy="335.52" r="2.5" fill="url(#sp_green)"/>
<circle cx="417.89" cy="314.84" r="2.5" fill="url(#sp_green)"/>
<circle cx="421.75" cy="292.53" r="2.5" fill="url(#sp_green)"/>
<circle cx="425.61" cy="270.54" r="2.5" fill="url(#sp_green)"/>
<circle cx="429.47" cy="252.49" r="2.5" fill="url(#sp_green)"/>
<circle cx="433.33" cy="235.09" r="2.5" fill="url(#sp_green)"/>
<polyline points="433.33,366.70 437.19,359.15 441.05,339.46 444.91,319.44 448.77,297.12 452.63,276.44 456.49,255.44 460.35,234.11" fill="none" stroke="#a9d18e" stroke-width="1.3"/>
<circle cx="433.33" cy="366.70" r="2.5" fill="url(#sp_green)"/>
<circle cx="437.19" cy="359.15" r="2.5" fill="url(#sp_green)"/>
<circle cx="441.05" cy="339.46" r="2.5" fill="url(#sp_green)"/>
<circle cx="444.91" cy="319.44" r="2.5" fill="url(#sp_green)"/>
<circle cx="448.77" cy="297.12" r="2.5" fill="url(#sp_green)"/>
<circle cx="452.63" cy="276.44" r="2.5" fill="url(#sp_green)"/>
<circle cx="456.49" cy="255.44" r="2.5" fill="url(#sp_green)"/>
<circle cx="460.35" cy="234.11" r="2.5" fill="url(#sp_green)"/>
<polyline points="460.35,366.70 464.21,355.87 468.07,335.52 471.93,314.84 475.80,292.53 479.66,270.54 483.52,252.49 487.38,235.09" fill="none" stroke="#a9d18e" stroke-width="1.3"/>
<circle cx="460.35" cy="366.70" r="2.5" fill="url(#sp_green)"/>
<circle cx="464.21" cy="355.87" r="2.5" fill="url(#sp_green)"/>
<circle cx="468.07" cy="335.52" r="2.5" fill="url(#sp_green)"/>
<circle cx="471.93" cy="314.84" r="2.5" fill="url(#sp_green)"/>
<circle cx="475.80" cy="292.53" r="2.5" fill="url(#sp_green)"/>
<circle cx="479.66" cy="270.54" r="2.5" fill="url(#sp_green)"/>
<circle cx="483.52" cy="252.49" r="2.5" fill="url(#sp_green)"/>
<circle cx="487.38" cy="235.09" r="2.5" fill="url(#sp_green)"/>
<polyline points="487.38,366.70 491.24,355.87 495.10,336.83 498.96,316.16 502.82,295.81 506.68,275.46 510.54,257.08 514.40,238.37" fill="none" stroke="#a9d18e" stroke-width="1.3"/>
<circle cx="487.38" cy="366.70" r="2.5" fill="url(#sp_green)"/>
<circle cx="491.24" cy="355.87" r="2.5" fill="url(#sp_green)"/>
<circle cx="495.10" cy="336.83" r="2.5" fill="url(#sp_green)"/>
<circle cx="498.96" cy="316.16" r="2.5" fill="url(#sp_green)"/>
<circle cx="502.82" cy="295.81" r="2.5" fill="url(#sp_green)"/>
<circle cx="506.68" cy="275.46" r="2.5" fill="url(#sp_green)"/>
<circle cx="510.54" cy="257.08" r="2.5" fill="url(#sp_green)"/>
<circle cx="514.40" cy="238.37" r="2.5" fill="url(#sp_green)"/>
<polyline points="514.40,366.70 518.26,360.46 522.12,344.05 525.98,321.74 529.84,299.42 533.70,278.74 537.56,257.08 541.42,238.05" fill="none" stroke="#a9d18e" stroke-width="1.3"/>
<circle cx="514.40" cy="366.70" r="2.5" fill="url(#sp_green)"/>
<circle cx="518.26" cy="360.46" r="2.5" fill="url(#sp_green)"/>
<circle cx="522.12" cy="344.05" r="2.5" fill="url(#sp_green)"/>
<circle cx="525.98" cy="321.74" r="2.5" fill="url(#sp_green)"/>
<circle cx="529.84" cy="299.42" r="2.5" fill="url(#sp_green)"/>
<circle cx="533.70" cy="278.74" r="2.5" fill="url(#sp_green)"/>
<circle cx="537.56" cy="257.08" r="2.5" fill="url(#sp_green)"/>
<circle cx="541.42" cy="238.05" r="2.5" fill="url(#sp_green)"/>
<polyline points="541.42,366.70 545.28,353.90 549.14,334.21 553.00,315.50 556.87,293.84 560.73,275.79 564.59,256.10 568.45,238.05" fill="none" stroke="#a9d18e" stroke-width="1.3"/>
<circle cx="541.42" cy="366.70" r="2.5" fill="url(#sp_green)"/>
<circle cx="545.28" cy="353.90" r="2.5" fill="url(#sp_green)"/>
<circle cx="549.14" cy="334.21" r="2.5" fill="url(#sp_green)"/>
<circle cx="553.00" cy="315.50" r="2.5" fill="url(#sp_green)"/>
<circle cx="556.87" cy="293.84" r="2.5" fill="url(#sp_green)"/>
<circle cx="560.73" cy="275.79" r="2.5" fill="url(#sp_green)"/>
<circle cx="564.59" cy="256.10" r="2.5" fill="url(#sp_green)"/>
<circle cx="568.45" cy="238.05" r="2.5" fill="url(#sp_green)"/>
<polyline points="568.45,366.70 572.31,355.87 576.17,336.51 580.03,318.78 583.89,299.09 587.75,280.38 591.61,261.35 595.47,240.34" fill="none" stroke="#a9d18e" stroke-width="1.3"/>
<circle cx="568.45" cy="366.70" r="2.5" fill="url(#sp_green)"/>
<circle cx="572.31" cy="355.87" r="2.5" fill="url(#sp_green)"/>
<circle cx="576.17" cy="336.51" r="2.5" fill="url(#sp_green)"/>
<circle cx="580.03" cy="318.78" r="2.5" fill="url(#sp_green)"/>
<circle cx="583.89" cy="299.09" r="2.5" fill="url(#sp_green)"/>
<circle cx="587.75" cy="280.38" r="2.5" fill="url(#sp_green)"/>
<circle cx="591.61" cy="261.35" r="2.5" fill="url(#sp_green)"/>
<circle cx="595.47" cy="240.34" r="2.5" fill="url(#sp_green)"/>
<polyline points="595.47,366.70 599.33,357.18 603.19,338.47 607.05,320.75 610.91,302.37 614.77,283.99 618.63,264.30 622.49,244.61" fill="none" stroke="#a9d18e" stroke-width="1.3"/>
<circle cx="595.47" cy="366.70" r="2.5" fill="url(#sp_green)"/>
<circle cx="599.33" cy="357.18" r="2.5" fill="url(#sp_green)"/>
<circle cx="603.19" cy="338.47" r="2.5" fill="url(#sp_green)"/>
<circle cx="607.05" cy="320.75" r="2.5" fill="url(#sp_green)"/>
<circle cx="610.91" cy="302.37" r="2.5" fill="url(#sp_green)"/>
<circle cx="614.77" cy="283.99" r="2.5" fill="url(#sp_green)"/>
<circle cx="618.63" cy="264.30" r="2.5" fill="url(#sp_green)"/>
<circle cx="622.49" cy="244.61" r="2.5" fill="url(#sp_green)"/>
<polyline points="622.49,366.70 626.35,353.90 630.21,334.21 634.07,315.50 637.93,297.12 641.80,278.41 645.66,259.05 649.52,243.30" fill="none" stroke="#a9d18e" stroke-width="1.3"/>
<circle cx="622.49" cy="366.70" r="2.5" fill="url(#sp_green)"/>
<circle cx="626.35" cy="353.90" r="2.5" fill="url(#sp_green)"/>
<circle cx="630.21" cy="334.21" r="2.5" fill="url(#sp_green)"/>
<circle cx="634.07" cy="315.50" r="2.5" fill="url(#sp_green)"/>
<circle cx="637.93" cy="297.12" r="2.5" fill="url(#sp_green)"/>
<circle cx="641.80" cy="278.41" r="2.5" fill="url(#sp_green)"/>
<circle cx="645.66" cy="259.05" r="2.5" fill="url(#sp_green)"/>
<circle cx="649.52" cy="243.30" r="2.5" fill="url(#sp_green)"/>
<polyline points="649.52,366.70 653.38,354.88 657.24,341.10 661.10,324.69 664.96,304.01 668.82,283.99 672.68,263.97 676.54,243.95" fill="none" stroke="#a9d18e" stroke-width="1.3"/>
<circle cx="649.52" cy="366.70" r="2.5" fill="url(#sp_green)"/>
<circle cx="653.38" cy="354.88" r="2.5" fill="url(#sp_green)"/>
<circle cx="657.24" cy="341.10" r="2.5" fill="url(#sp_green)"/>
<circle cx="661.10" cy="324.69" r="2.5" fill="url(#sp_green)"/>
<circle cx="664.96" cy="304.01" r="2.5" fill="url(#sp_green)"/>
<circle cx="668.82" cy="283.99" r="2.5" fill="url(#sp_green)"/>
<circle cx="672.68" cy="263.97" r="2.5" fill="url(#sp_green)"/>
<circle cx="676.54" cy="243.95" r="2.5" fill="url(#sp_green)"/>
</g>
<rect x="348.4" y="202.5" width="332.0" height="164.7" fill="none" stroke="#555" stroke-width="1"/>
<path d="M348.4,202.5V367.2H680.4" fill="none" stroke="#4a4a4a" stroke-width="1.3"/>
<path d="M348.4,366.70H351.4" stroke="#333" stroke-width="1"/>
<path d="M348.4,358.50H350.2" stroke="#333" stroke-width="1"/>
<text x="344.79999999999995" y="369.40" font-size="9.8" text-anchor="end" fill="#111">0</text>
<path d="M348.4,350.29H351.4" stroke="#333" stroke-width="1"/>
<path d="M348.4,342.08H350.2" stroke="#333" stroke-width="1"/>
<text x="344.79999999999995" y="352.99" font-size="9.8" text-anchor="end" fill="#111">5</text>
<path d="M348.4,333.88H351.4" stroke="#333" stroke-width="1"/>
<path d="M348.4,325.68H350.2" stroke="#333" stroke-width="1"/>
<text x="344.79999999999995" y="336.58" font-size="9.8" text-anchor="end" fill="#111">10</text>
<path d="M348.4,317.47H351.4" stroke="#333" stroke-width="1"/>
<path d="M348.4,309.26H350.2" stroke="#333" stroke-width="1"/>
<text x="344.79999999999995" y="320.17" font-size="9.8" text-anchor="end" fill="#111">15</text>
<path d="M348.4,301.06H351.4" stroke="#333" stroke-width="1"/>
<path d="M348.4,292.86H350.2" stroke="#333" stroke-width="1"/>
<text x="344.79999999999995" y="303.76" font-size="9.8" text-anchor="end" fill="#111">20</text>
<path d="M348.4,284.65H351.4" stroke="#333" stroke-width="1"/>
<path d="M348.4,276.44H350.2" stroke="#333" stroke-width="1"/>
<text x="344.79999999999995" y="287.35" font-size="9.8" text-anchor="end" fill="#111">25</text>
<path d="M348.4,268.24H351.4" stroke="#333" stroke-width="1"/>
<path d="M348.4,260.03H350.2" stroke="#333" stroke-width="1"/>
<text x="344.79999999999995" y="270.94" font-size="9.8" text-anchor="end" fill="#111">30</text>
<path d="M348.4,251.83H351.4" stroke="#333" stroke-width="1"/>
<path d="M348.4,243.62H350.2" stroke="#333" stroke-width="1"/>
<text x="344.79999999999995" y="254.53" font-size="9.8" text-anchor="end" fill="#111">35</text>
<path d="M348.4,235.42H351.4" stroke="#333" stroke-width="1"/>
<path d="M348.4,227.21H350.2" stroke="#333" stroke-width="1"/>
<text x="344.79999999999995" y="238.12" font-size="9.8" text-anchor="end" fill="#111">40</text>
<path d="M348.4,219.01H351.4" stroke="#333" stroke-width="1"/>
<path d="M348.4,210.80H350.2" stroke="#333" stroke-width="1"/>
<text x="344.79999999999995" y="221.71" font-size="9.8" text-anchor="end" fill="#111">45</text>
<path d="M348.4,202.60H351.4" stroke="#333" stroke-width="1"/>
<text x="344.79999999999995" y="205.30" font-size="9.8" text-anchor="end" fill="#111">50</text>
<path d="M352.26,367.2V364.2" stroke="#333" stroke-width="1"/>
<path d="M365.77,367.2V365.4" stroke="#333" stroke-width="1"/>
<text x="352.26" y="380.80" font-size="9.6" text-anchor="middle" fill="#111">0.0</text>
<path d="M379.28,367.2V364.2" stroke="#333" stroke-width="1"/>
<path d="M392.80,367.2V365.4" stroke="#333" stroke-width="1"/>
<text x="379.28" y="380.80" font-size="9.6" text-anchor="middle" fill="#111">3.5</text>
<path d="M406.31,367.2V364.2" stroke="#333" stroke-width="1"/>
<path d="M419.82,367.2V365.4" stroke="#333" stroke-width="1"/>
<text x="406.31" y="380.80" font-size="9.6" text-anchor="middle" fill="#111">7.0</text>
<path d="M433.33,367.2V364.2" stroke="#333" stroke-width="1"/>
<path d="M446.84,367.2V365.4" stroke="#333" stroke-width="1"/>
<text x="433.33" y="380.80" font-size="9.6" text-anchor="middle" fill="#111">10.5</text>
<path d="M460.35,367.2V364.2" stroke="#333" stroke-width="1"/>
<path d="M473.87,367.2V365.4" stroke="#333" stroke-width="1"/>
<text x="460.35" y="380.80" font-size="9.6" text-anchor="middle" fill="#111">14.0</text>
<path d="M487.38,367.2V364.2" stroke="#333" stroke-width="1"/>
<path d="M500.89,367.2V365.4" stroke="#333" stroke-width="1"/>
<text x="487.38" y="380.80" font-size="9.6" text-anchor="middle" fill="#111">17.5</text>
<path d="M514.40,367.2V364.2" stroke="#333" stroke-width="1"/>
<path d="M527.91,367.2V365.4" stroke="#333" stroke-width="1"/>
<text x="514.40" y="380.80" font-size="9.6" text-anchor="middle" fill="#111">21.0</text>
<path d="M541.42,367.2V364.2" stroke="#333" stroke-width="1"/>
<path d="M554.93,367.2V365.4" stroke="#333" stroke-width="1"/>
<text x="541.42" y="380.80" font-size="9.6" text-anchor="middle" fill="#111">24.5</text>
<path d="M568.45,367.2V364.2" stroke="#333" stroke-width="1"/>
<path d="M581.96,367.2V365.4" stroke="#333" stroke-width="1"/>
<text x="568.45" y="380.80" font-size="9.6" text-anchor="middle" fill="#111">28.0</text>
<path d="M595.47,367.2V364.2" stroke="#333" stroke-width="1"/>
<path d="M608.98,367.2V365.4" stroke="#333" stroke-width="1"/>
<text x="595.47" y="380.80" font-size="9.6" text-anchor="middle" fill="#111">31.5</text>
<path d="M622.49,367.2V364.2" stroke="#333" stroke-width="1"/>
<path d="M636.00,367.2V365.4" stroke="#333" stroke-width="1"/>
<text x="622.49" y="380.80" font-size="9.6" text-anchor="middle" fill="#111">35.0</text>
<path d="M649.52,367.2V364.2" stroke="#333" stroke-width="1"/>
<path d="M663.03,367.2V365.4" stroke="#333" stroke-width="1"/>
<text x="649.52" y="380.80" font-size="9.6" text-anchor="middle" fill="#111">38.5</text>
<path d="M676.54,367.2V364.2" stroke="#333" stroke-width="1"/>
<text x="676.54" y="380.80" font-size="9.6" text-anchor="middle" fill="#111">42.0</text>
<text x="514.5" y="393.3" font-size="9.3" text-anchor="middle" fill="#111">Time (h)</text>
<text transform="translate(327.4,284.5) rotate(-90)" font-size="9.3" text-anchor="middle" fill="#111">H<tspan font-size="6.5" dy="2">2</tspan><tspan dy="-2"> evolution (mmol)</tspan></text>
<text x="315.6" y="206.6" font-size="15.5" font-weight="bold" fill="#000" stroke="#000" stroke-width="0.45">e</text>
</svg>
</body></html>
